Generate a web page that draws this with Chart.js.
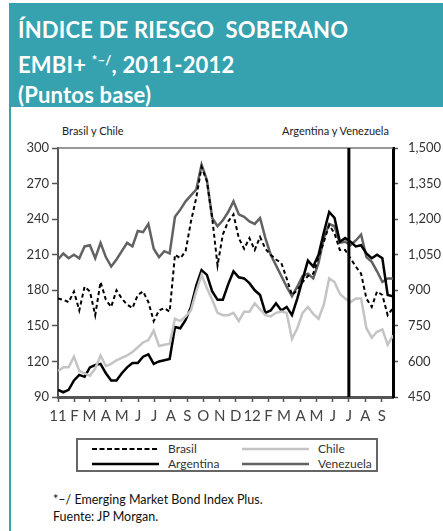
<!DOCTYPE html>
<html>
<head>
<meta charset="utf-8">
<script src="https://cdn.jsdelivr.net/npm/chart.js@4.4.1/dist/chart.umd.min.js"></script>
<style>
  html, body { margin: 0; padding: 0; background: #fff; }
  body { width: 443px; height: 531px; position: relative; overflow: hidden; font-family: Lato, "Noto Sans", sans-serif; }
  #cabecera { position: absolute; left: 9px; top: 3px; width: 434px; height: 104px; background: #36a2af; }
  #titulo { position: absolute; left: 9px; top: 12px; color: #fff; font-weight: bold; font-size: 22px; line-height: 30px; letter-spacing: 0.2px; }
  #titulo sup { font-size: 13px; vertical-align: 8px; }
  #borde { position: absolute; left: 9px; top: 107px; width: 2px; height: 424px; background: #36a2af; }
  .rotulo { position: absolute; top: 124px; font-size: 11px; color: #222; }
  #leyenda { position: absolute; left: 76px; top: 438px; width: 298px; height: 30px; border: 2px solid #666; background: #fff; font-size: 12px; color: #333; }
  .item { position: absolute; height: 16px; line-height: 16px; }
  .item svg { position: absolute; top: 0; }
  .item span { position: absolute; }
  #nota { position: absolute; left: 53px; top: 491px; font-size: 12.5px; line-height: 17px; color: #111; }
  canvas { position: absolute; left: 0; top: 0; }
</style>
</head>
<body>
<div id="cabecera">
  <div id="titulo">ÍNDICE DE RIESGO&nbsp; SOBERANO<br>EMBI+ <sup>*–/</sup>, 2011-2012<br>(Puntos base)</div>
</div>
<div id="borde"></div>
<div class="rotulo" style="left:62px">Brasil y Chile</div>
<div class="rotulo" style="left:282px">Argentina y Venezuela</div>
<div id="leyenda"></div>
<div id="nota">*–/ Emerging Market Bond Index Plus.<br>Fuente: JP Morgan.</div>
<canvas id="grafico" width="443" height="531"></canvas>
<script>
// días desde el 1 de enero de 2011, cada 10 días
const dias = Array.from({ length: 64 }, (_, i) => i * 10);

// eje izquierdo
const brasil = [173, 172, 170, 179, 163, 183, 179, 159, 187, 172,
    166, 180, 173, 168, 165, 176, 179, 170, 154, 163,
    165, 162, 210, 207, 213, 238, 258, 284, 272, 241,
    201, 227, 238, 244, 224, 215, 224, 214, 225, 215,
    210, 206, 203, 190, 176, 180, 187, 192, 194, 208,
    221, 235, 228, 214, 214, 207, 200, 194, 173, 166,
    179, 176, 159, 165];
const chile = [112, 115, 115, 124, 112, 110, 108, 114, 125, 116,
    118, 121, 123, 125, 128, 132, 136, 138, 146, 133,
    134, 135, 156, 154, 158, 163, 179, 193, 182, 172,
    161, 159, 159, 161, 154, 162, 162, 169, 164, 159,
    158, 161, 162, 161, 139, 148, 161, 166, 160, 156,
    168, 190, 187, 177, 173, 170, 173, 173, 148, 140,
    145, 147, 134, 142];

// eje derecho
const argentina = [480, 470, 480, 520, 543, 535, 575, 585, 590, 550,
    520, 520, 550, 575, 593, 593, 620, 630, 590, 600,
    605, 610, 745, 740, 775, 830, 920, 985, 965, 895,
    860, 860, 925, 980, 955, 950, 930, 900, 880, 805,
    815, 845, 815, 830, 795, 865, 945, 1025, 1000, 1050,
    1145, 1230, 1205, 1105, 1120, 1105, 1085, 1090, 1055, 1035,
    1050, 1035, 880, 875];
const venezuela = [1030, 1055, 1035, 1050, 1035, 1085, 1090, 1035, 1100, 1040,
    1000, 1030, 1065, 1100, 1085, 1150, 1145, 1180, 1075, 1040,
    1065, 1055, 1210, 1240, 1275, 1300, 1325, 1430, 1365, 1205,
    1170, 1195, 1230, 1275, 1220, 1210, 1190, 1180, 1205, 1120,
    1050, 1005, 960, 915, 875, 915, 960, 970, 950, 1015,
    1120, 1180, 1170, 1100, 1105, 1090, 1110, 1135, 1040, 1020,
    980, 935, 950, 950];

// inicio de cada mes y su etiqueta
const mesesDia = [0, 31, 59, 90, 120, 151, 181, 212, 243, 273, 304, 334,
    365, 396, 425, 456, 486, 517, 547, 578, 609];
const mesesEtiqueta = ['11', 'F', 'M', 'A', 'M', 'J', 'J', 'A', 'S', 'O', 'N', 'D',
    '12', 'F', 'M', 'A', 'M', 'J', 'J', 'A', 'S'];
const lineaDia = 547; // julio 2012

const series = [
    { label: 'Brasil', data: brasil, eje: 'y', color: '#000', ancho: 2, dash: [4, 3] },
    { label: 'Chile', data: chile, eje: 'y', color: '#c4c4c4', ancho: 2.5, dash: [] },
    { label: 'Argentina', data: argentina, eje: 'y2', color: '#000', ancho: 2.5, dash: [] },
    { label: 'Venezuela', data: venezuela, eje: 'y2', color: '#626262', ancho: 2.5, dash: [] }
];

// marco superior y línea vertical
const marcoPlugin = {
    id: 'marco',
    afterDatasetsDraw(chart) {
        const { ctx, chartArea, scales } = chart;
        ctx.save();
        ctx.strokeStyle = '#777';
        ctx.lineWidth = 1.5;
        ctx.beginPath();
        ctx.moveTo(chartArea.left, chartArea.top);
        ctx.lineTo(chartArea.right, chartArea.top);
        ctx.stroke();
        const x = scales.x.getPixelForValue(lineaDia);
        ctx.strokeStyle = '#000';
        ctx.lineWidth = 3;
        ctx.beginPath();
        ctx.moveTo(x, chartArea.top);
        ctx.lineTo(x, chartArea.bottom);
        ctx.stroke();
        ctx.restore();
    }
};

new Chart(document.getElementById('grafico'), {
    type: 'line',
    data: {
        datasets: series.map(s => ({
            label: s.label,
            data: dias.map((d, i) => ({ x: d, y: s.data[i] })),
            yAxisID: s.eje,
            borderColor: s.color,
            borderWidth: s.ancho,
            borderDash: s.dash,
            pointRadius: 0,
            tension: 0,
            fill: false
        }))
    },
    options: {
        responsive: false,
        animation: false,
        layout: { padding: { left: 0, right: 0, top: 148, bottom: 104 } },
        plugins: { legend: { display: false }, tooltip: { enabled: false } },
        scales: {
            x: {
                type: 'linear',
                min: 0,
                max: 630,
                afterFit: s => { s.height = 30; },
                afterBuildTicks: s => { s.ticks = mesesDia.map(v => ({ value: v })); },
                grid: { drawOnChartArea: false, drawTicks: true, tickLength: 5, tickColor: '#555', tickWidth: 1.5 },
                border: { display: true, color: '#555', width: 3 },
                ticks: {
                    autoSkip: false,
                    maxRotation: 0,
                    padding: 5,
                    color: '#444',
                    font: { family: 'Lato', size: 15 },
                    callback: v => mesesEtiqueta[mesesDia.indexOf(v)]
                }
            },
            y: {
                position: 'left',
                min: 90,
                max: 300,
                afterFit: s => { s.width = 58; },
                grid: { drawOnChartArea: false, tickLength: 6, tickColor: '#555', tickWidth: 1.5 },
                border: { display: true, color: '#555', width: 2 },
                ticks: { stepSize: 30, padding: 3, color: '#333', font: { family: 'Lato', size: 13 } }
            },
            y2: {
                position: 'right',
                min: 450,
                max: 1500,
                afterFit: s => { s.width = 50; },
                grid: { drawOnChartArea: false, tickLength: 5, tickColor: '#555', tickWidth: 1.5 },
                border: { display: true, color: '#000', width: 3 },
                ticks: {
                    stepSize: 150,
                    padding: 10,
                    color: '#333',
                    font: { family: 'Lato', size: 13 },
                    callback: v => v.toLocaleString('en-US')
                }
            }
        }
    },
    plugins: [marcoPlugin]
});

// leyenda en recuadro
const posiciones = [
    { x: 14, y: 1, texto: 90 }, { x: 164, y: 1, texto: 240 },
    { x: 14, y: 16, texto: 90 }, { x: 164, y: 16, texto: 240 }
];
const orden = [0, 1, 2, 3];
const leyenda = document.getElementById('leyenda');
orden.forEach((idx, n) => {
    const s = series[idx];
    const p = posiciones[n];
    const item = document.createElement('div');
    item.className = 'item';
    item.style.left = p.x + 'px';
    item.style.top = p.y + 'px';
    item.innerHTML = '<svg width="68" height="16"><line x1="0" y1="8" x2="67" y2="8" stroke="' + s.color +
        '" stroke-width="' + s.ancho + '" stroke-dasharray="' + (s.dash.length ? '5,2.5' : 'none') + '"/></svg>' +
        '<span style="left:' + (p.texto - p.x) + 'px">' + s.label + '</span>';
    leyenda.appendChild(item);
});
</script>
</body>
</html>
